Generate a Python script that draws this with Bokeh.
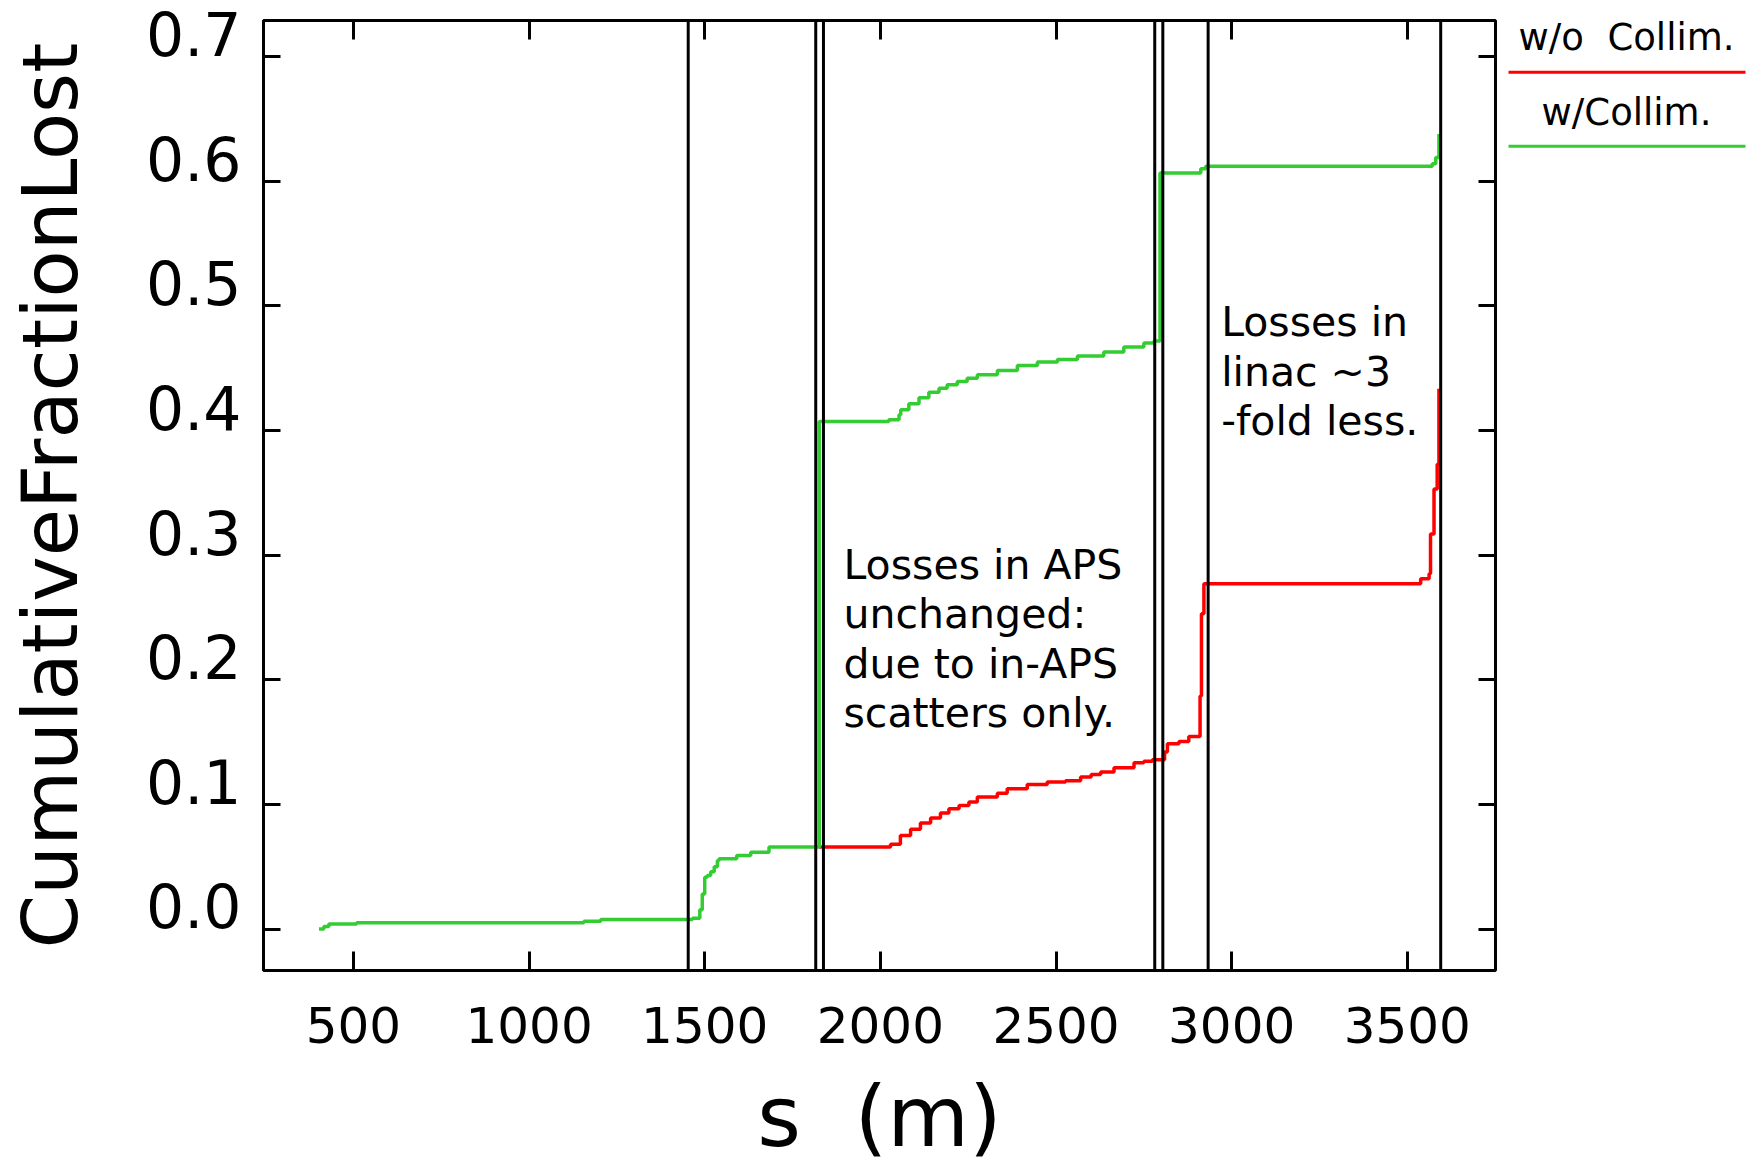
from bokeh.plotting import figure
from bokeh.models import (Range1d, LinearAxis, SingleIntervalTicker, NumeralTickFormatter,
                          Span)
from bokeh.layouts import row
from bokeh.core.properties import value
from bokeh.embed import file_html
from bokeh.resources import INLINE

# ---------------- data ----------------
green_s = [402, 416, 430, 509, 1156, 1204, 1465, 1486, 1493, 1500, 1507, 1517, 1527, 1536,
           1541, 1591, 1631, 1683, 1826, 2024, 2053, 2058, 2081, 2110, 2138, 2167, 2190,
           2219, 2247, 2276, 2333, 2390, 2447, 2504, 2561, 2636, 2693, 2750, 2779, 2796,
           2912, 2926, 3571, 3581, 3590]
green_frac = [0.0, 0.002, 0.004, 0.005, 0.0063, 0.0076, 0.0087, 0.0154, 0.028, 0.0416, 0.043,
              0.046, 0.050, 0.055, 0.0563, 0.059, 0.0616, 0.0657, 0.4073, 0.4087, 0.4127,
              0.4167, 0.4215, 0.4263, 0.4308, 0.434, 0.4367, 0.4394, 0.442, 0.4448, 0.4482,
              0.4522, 0.4549, 0.457, 0.4597, 0.463, 0.467, 0.4702, 0.4718, 0.6066, 0.610,
              0.612, 0.614, 0.619, 0.638]

red_s = [1826, 2029, 2057, 2086, 2114, 2143, 2171, 2195, 2224, 2252, 2276, 2333, 2361, 2418,
         2475, 2527, 2570, 2600, 2627, 2665, 2722, 2750, 2774, 2809, 2817, 2850, 2878, 2910,
         2914, 2921, 3538, 3562, 3566, 3576, 3585, 3590]
red_frac = [0.0657, 0.068, 0.075, 0.080, 0.085, 0.089, 0.093, 0.0965, 0.099, 0.102, 0.106,
            0.109, 0.1125, 0.116, 0.118, 0.119, 0.122, 0.124, 0.126, 0.1294, 0.1334, 0.1347,
            0.1358, 0.142, 0.1486, 0.1505, 0.1545, 0.187, 0.253, 0.277, 0.281, 0.285, 0.317,
            0.353, 0.373, 0.4335]

marker_s = [1453, 1816, 1838, 2781, 2804, 2933, 3595]

legend_labels = ["w/o\u00a0\u00a0Collim.", "w/Collim."]
aps_lines = ["Losses in APS", "unchanged:", "due to in-APS", "scatters only."]
linac_lines = ["Losses in", "linac ~3", "-fold less."]
x_label = "s\u00a0\u00a0(m)"
y_label = "CumulativeFractionLost"

RED = "#ff0000"
GREEN = "#33cc33"
FONT = "DejaVu Sans"

# ---------------- main figure ----------------
y0, y1 = -0.0333, 0.729
p = figure(frame_width=1232, frame_height=950,
           x_range=Range1d(244, 3751), y_range=Range1d(y0, y1),
           output_backend="svg", toolbar_location=None,
           x_axis_location=None, y_axis_location=None,
           min_border_left=263, min_border_top=20, min_border_bottom=199, min_border_right=5)
p.grid.visible = False
p.outline_line_color = "black"
p.outline_line_width = 3
LAB_SHIFT = 0.0185
p.extra_y_ranges = {"lab": Range1d(y0 - LAB_SHIFT, y1 - LAB_SHIFT)}


def tick_only_axis(**kw):
    return LinearAxis(major_tick_out=0, major_tick_line_width=3, major_tick_line_color="black",
                      minor_tick_line_color=None, axis_line_color=None,
                      major_label_text_font_size="0px", major_label_text_color=None,
                      major_label_standoff=0, **kw)


xb = LinearAxis(ticker=SingleIntervalTicker(interval=500, num_minor_ticks=0),
                major_tick_in=19, major_tick_out=0, major_tick_line_width=3,
                minor_tick_line_color=None, axis_line_color=None,
                major_label_standoff=36, major_label_text_font=FONT,
                major_label_text_font_size="50px", major_label_text_color="black",
                axis_label=x_label, axis_label_text_font=FONT,
                axis_label_text_font_size="84px", axis_label_text_font_style="normal",
                axis_label_text_color="black", axis_label_standoff=22)
p.add_layout(xb, "below")

xt = tick_only_axis(ticker=SingleIntervalTicker(interval=500, num_minor_ticks=0), major_tick_in=19)
p.add_layout(xt, "above")

yt = tick_only_axis(ticker=SingleIntervalTicker(interval=0.1, num_minor_ticks=0), major_tick_in=17)
p.add_layout(yt, "left")

ylab = LinearAxis(y_range_name="lab",
                  ticker=SingleIntervalTicker(interval=0.1, num_minor_ticks=0),
                  formatter=NumeralTickFormatter(format="0.0"),
                  major_tick_in=0, major_tick_out=0, major_tick_line_color=None,
                  minor_tick_line_color=None, axis_line_color=None,
                  major_label_standoff=22, major_label_text_font=FONT,
                  major_label_text_font_size="60px", major_label_text_color="black",
                  axis_label=y_label, axis_label_text_font=FONT,
                  axis_label_text_font_size="77px", axis_label_text_font_style="normal",
                  axis_label_text_color="black", axis_label_standoff=48)
p.add_layout(ylab, "left")

yr = tick_only_axis(ticker=SingleIntervalTicker(interval=0.1, num_minor_ticks=0), major_tick_in=17)
p.add_layout(yr, "right")

for s in marker_s:
    p.add_layout(Span(location=s, dimension="height", line_color="black", line_width=3))

p.step(red_s, red_frac, mode="after", line_color=RED, line_width=3.5)
p.step(green_s, green_frac, mode="after", line_color=GREEN, line_width=3.5)

pitch = 0.0396
aps_x, aps_y0 = 1895, 0.292
p.text(x=[aps_x] * len(aps_lines),
       y=[aps_y0 - i * pitch for i in range(len(aps_lines))],
       text=aps_lines, text_font=value(FONT), text_font_size="41px",
       text_align="left", text_baseline="alphabetic", text_color="black")

lin_x, lin_y0 = 2970, 0.4867
p.text(x=[lin_x] * len(linac_lines),
       y=[lin_y0 - i * pitch for i in range(len(linac_lines))],
       text=linac_lines, text_font=value(FONT), text_font_size="41px",
       text_align="left", text_baseline="alphabetic", text_color="black")

# ---------------- legend panel (frame aligned with main frame: y = page_y - 20) ----------------
LW = 256
leg = figure(width=LW, frame_height=950, x_range=Range1d(0, LW), y_range=Range1d(950, 0),
             output_backend="svg", toolbar_location=None,
             x_axis_location=None, y_axis_location=None,
             min_border_left=0, min_border_right=0, min_border_top=20, min_border_bottom=199)
leg.grid.visible = False
leg.outline_line_color = None
leg.text(x=[126, 126], y=[17, 92], text=legend_labels, text_font=value(FONT),
         text_font_size="37px", text_align="center", text_baseline="alphabetic",
         text_color="black")
leg.segment(x0=[8, 8], x1=[245, 245], y0=[51.7, 125.7], y1=[51.7, 125.7],
            line_color=[RED, GREEN], line_width=3)

layout = row(p, leg)
open("out.html", "w").write(file_html(layout, INLINE))
